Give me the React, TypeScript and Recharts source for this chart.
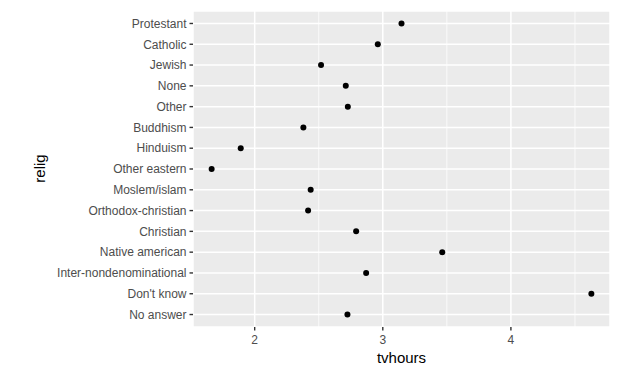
import { ScatterChart, Scatter, XAxis, YAxis, CartesianGrid, ReferenceLine } from "recharts";

const religions = [
  "Protestant",
  "Catholic",
  "Jewish",
  "None",
  "Other",
  "Buddhism",
  "Hinduism",
  "Other eastern",
  "Moslem/islam",
  "Orthodox-christian",
  "Christian",
  "Native american",
  "Inter-nondenominational",
  "Don't know",
  "No answer",
];

const tvhours = [
  3.146, 2.961, 2.518, 2.711, 2.727, 2.38, 1.891, 1.664, 2.437, 2.417, 2.792, 3.464, 2.87, 4.628, 2.724,
];

const xTicks = [2, 3, 4];
const xMinor = [2.5, 3.5, 4.5];

const FONT = '"Liberation Sans", Arial, sans-serif';

const data = religions.map((r, i) => ({ relig: r, tvhours: tvhours[i], pos: i + 1 }));
const yTicks = religions.map((_, i) => i + 1);

const Dot = (p: any) => <circle cx={p.cx} cy={p.cy} r={3} fill="#000" />;

export default function App() {
  return (
    <div style={{ position: "absolute", left: 0, top: 0, background: "#fff" }}>
      <ScatterChart width={644} height={372} margin={{ top: 11, right: 34, left: 0, bottom: 0 }}>
        <CartesianGrid fill="#ebebeb" stroke="#ffffff" strokeWidth={1.5} />
        {xMinor.map((v) => (
          <ReferenceLine key={v} x={v} stroke="#ffffff" strokeWidth={0.75} />
        ))}
        <XAxis
          type="number"
          dataKey="tvhours"
          domain={[1.5185, 4.7735]}
          allowDataOverflow
          ticks={xTicks}
          axisLine={false}
          tickSize={3.5}
          tickMargin={4.5}
          tickLine={{ stroke: "#333333", strokeWidth: 1.4 }}
          tick={{ fill: "#4d4d4d", fontSize: 12, fontFamily: FONT }}
          height={45}
          label={{
            value: "tvhours",
            position: "insideBottom",
            offset: 9,
            style: { fill: "#000", fontSize: 15, fontFamily: FONT },
          }}
        />
        <YAxis
          type="number"
          dataKey="pos"
          domain={[0.4, 15.6]}
          reversed
          ticks={yTicks}
          interval={0}
          tickFormatter={(v: number) => religions[v - 1]}
          axisLine={false}
          tickSize={3.5}
          tickMargin={3}
          tickLine={{ stroke: "#333333", strokeWidth: 1.4 }}
          tick={{ fill: "#4d4d4d", fontSize: 12, fontFamily: FONT }}
          width={193}
          label={() => (
            <text
              x={45}
              y={168.5}
              transform="rotate(-90 45 168.5)"
              textAnchor="middle"
              fill="#000"
              fontSize={15}
              fontFamily={FONT}
            >
              relig
            </text>
          )}
        />
        <Scatter data={data} shape={Dot} isAnimationActive={false} />
      </ScatterChart>
    </div>
  );
}
